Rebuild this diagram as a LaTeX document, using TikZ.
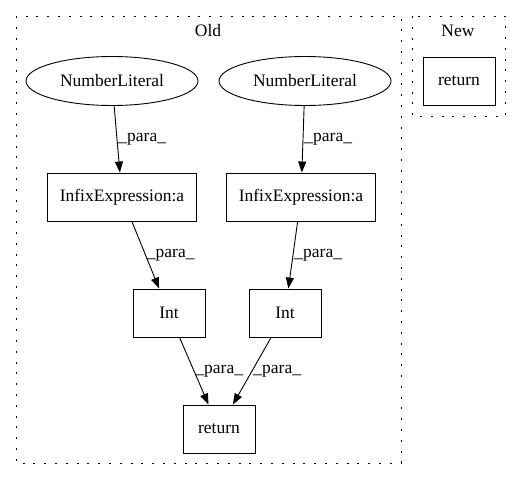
\documentclass[tikz,border=0pt]{standalone}
\usepackage{fontspec}
\setmainfont{Liberation Serif}
\usetikzlibrary{arrows.meta,shapes.geometric}
\tikzstyle{stmt}=[rectangle, draw, line width=0.9pt, inner sep=0pt, minimum width=72pt, minimum height=48pt]
\tikzstyle{lit}=[ellipse, draw, line width=0.9pt, inner sep=0pt, minimum width=172pt, minimum height=49pt]
\tikzstyle{cluster}=[draw, line width=1pt, dash pattern=on 2pt off 8.8pt]
\newcommand{\stmt}{\node[stmt]}
\newcommand{\lit}{\node[lit]}

\begin{document}
\begin{tikzpicture}[x=1pt, y=-1pt
    ,font=\fontsize{17.5}{20}\selectfont
    ,every edge/.style={draw, line width=0.9pt,
        -{Triangle[length=11pt,width=8pt]}}
]
\useasboundingbox (0,0) rectangle (521,480);
% clusters
\draw[cluster] (16,16) rectangle (401,463);
\node (old) at (208,31) {Old};
\draw[cluster] (412,16) rectangle (505,116);
\node (new) at (458,31) {New};
% old
\lit (nl1) at (112,81) {NumberLiteral};
\lit (nl2) at (305,81) {NumberLiteral};
\stmt[minimum width=149pt] (ie1) at (122,197) {InfixExpression:a};
\stmt[minimum width=149pt] (ie2) at (301,197) {InfixExpression:a};
\stmt (int1) at (169,313) {Int};
\stmt (int2) at (285,313) {Int};
\stmt (ret) at (219,429) {return};
% new
\stmt (ret2) at (459,81) {return};
\path
(nl1)  edge node [right, inner sep=1pt] {\_para\_} (ie1)
(nl2)  edge node [right, inner sep=1pt] {\_para\_} (ie2)
(ie1)  edge node [right, inner sep=1pt] {\_para\_} (int1)
(ie2)  edge node [right, inner sep=1pt] {\_para\_} (int2)
(int1) edge node [right, inner sep=1pt] {\_para\_} (ret)
(int2) edge node [right, inner sep=1pt] {\_para\_} (ret)
;
\end{tikzpicture}
\end{document}
